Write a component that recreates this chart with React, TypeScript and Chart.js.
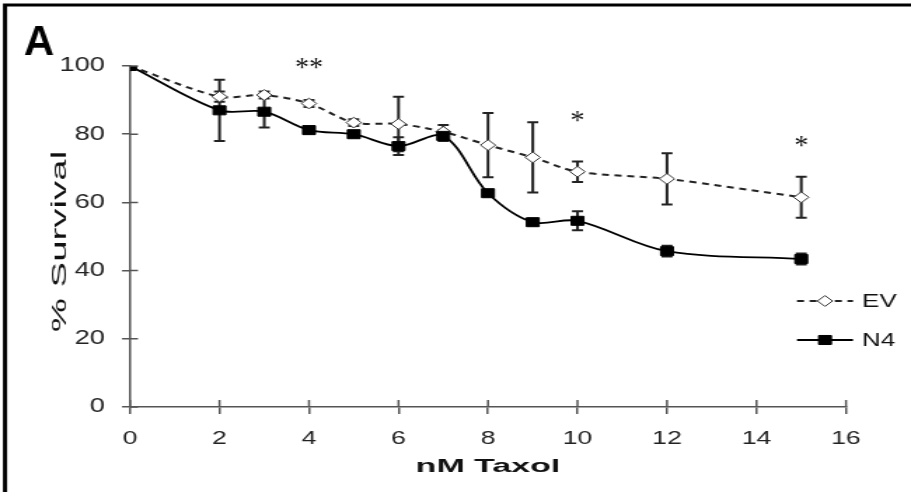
import React, { useEffect, useRef } from "react";
import { Chart, registerables } from "chart.js";

Chart.register(...registerables);

const doses = [0, 2, 3, 4, 5, 6, 7, 8, 9, 10, 12, 15];
const evValues = [100, 91, 91.5, 89, 83.4, 83, 80.7, 76.8, 73.2, 69, 66.9, 61.5];
const evErrors = [0, 1.5, 1, 1, 1, 8, 2, 9.4, 10.3, 3, 7.5, 6];
const n4Values = [100, 87, 86.6, 81.2, 80, 76.5, 79.5, 62.7, 54.2, 54.6, 45.7, 43.4];
const n4Errors = [0, 9, 4.6, 0.8, 0.8, 2.6, 1.5, 0.8, 0.8, 2.8, 1.6, 1.6];
const sigX = [4, 10, 15];
const sigY = [101, 85.5, 78];
const sigLabels = ["**", "*", "*"];
const seriesNames = ["EV", "N4"];
const xTitle = "nM Taxol";
const yTitle = "% Survival";
const panelLabel = "A";

const OUT_W = 911;
const OUT_H = 492;
const INNER_W = 650;
const K = OUT_W / INNER_W; // horizontal stretch of the whole picture
const FONT = "'Liberation Sans', Arial, sans-serif";
const AXIS_COLOR = "#555";

export default function App() {
  const ref = useRef<HTMLCanvasElement | null>(null);
  useEffect(() => {
    document.body.style.margin = "0";
    const errs = [evErrors, n4Errors];
    const rx = (v: number) => v / K; // real px -> internal px

    const framePlugin = {
      id: "frame",
      beforeDraw(chart: any) {
        const { ctx } = chart;
        ctx.save();
        ctx.strokeStyle = "#000";
        ctx.lineWidth = 3;
        ctx.beginPath();
        ctx.moveTo(rx(5), OUT_H);
        ctx.lineTo(rx(5), 5);
        ctx.lineTo(INNER_W, 5);
        ctx.stroke();
        ctx.translate(rx(24), 55);
        ctx.scale(1 / K, 1);
        ctx.fillStyle = "#000";
        ctx.font = `bold 42px ${FONT}`;
        ctx.textBaseline = "alphabetic";
        ctx.textAlign = "left";
        ctx.fillText(panelLabel, 0, 0);
        ctx.restore();
      },
      afterDraw(chart: any) {
        const { ctx, scales, chartArea } = chart;
        ctx.save();
        // inner halves of tick marks
        ctx.strokeStyle = AXIS_COLOR;
        ctx.lineWidth = 1.5;
        ctx.beginPath();
        scales.x.ticks.forEach((t: any) => {
          const px = scales.x.getPixelForValue(t.value);
          ctx.moveTo(px, chartArea.bottom);
          ctx.lineTo(px, chartArea.bottom - 7);
        });
        scales.y.ticks.forEach((t: any) => {
          const py = scales.y.getPixelForValue(t.value);
          ctx.moveTo(chartArea.left, py);
          ctx.lineTo(chartArea.left + rx(8), py);
        });
        ctx.stroke();

        // axis titles
        ctx.fillStyle = "#111";
        ctx.save();
        ctx.translate((chartArea.left + chartArea.right) / 2, 472);
        ctx.scale(1.31, 1);
        ctx.font = `bold 18.5px ${FONT}`;
        ctx.textAlign = "center";
        ctx.textBaseline = "alphabetic";
        ctx.fillText(xTitle, 0, 0);
        ctx.restore();

        ctx.save();
        ctx.translate(rx(66), (chartArea.top + chartArea.bottom) / 2 + 5);
        ctx.scale(1 / K, 1);
        ctx.rotate(-Math.PI / 2);
        ctx.scale(1.92, 1);
        ctx.font = `20px ${FONT}`;
        ctx.textAlign = "center";
        ctx.textBaseline = "alphabetic";
        ctx.fillText(yTitle, 0, 0);
        ctx.restore();

        // significance marks
        ctx.font = `28px 'Liberation Serif', 'Times New Roman', serif`;
        ctx.textAlign = "center";
        ctx.textBaseline = "middle";
        sigX.forEach((x, i) => {
          ctx.save();
          ctx.translate(scales.x.getPixelForValue(x), scales.y.getPixelForValue(sigY[i]) + 6);
          ctx.scale(1 / K, 1);
          ctx.fillText(sigLabels[i], 0, 0);
          ctx.restore();
        });

        // legend
        const lx0 = rx(797), lx1 = rx(853);
        const rows = [301, 340];
        chart.data.datasets.forEach((ds: any, i: number) => {
          const y = rows[i];
          ctx.save();
          ctx.strokeStyle = ds.borderColor;
          ctx.lineWidth = ds.borderWidth;
          ctx.setLineDash(ds.borderDash || []);
          ctx.beginPath();
          ctx.moveTo(lx0, y);
          ctx.lineTo(lx1, y);
          ctx.stroke();
          ctx.restore();
          const cx = (lx0 + lx1) / 2;
          ctx.save();
          ctx.fillStyle = ds.pointBackgroundColor;
          ctx.strokeStyle = ds.pointBorderColor;
          ctx.lineWidth = 1;
          ctx.beginPath();
          if (ds.pointStyle === "rectRot") {
            const r = ds.pointRadius;
            ctx.moveTo(cx - r, y);
            ctx.lineTo(cx, y - r);
            ctx.lineTo(cx + r, y);
            ctx.lineTo(cx, y + r);
            ctx.closePath();
          } else {
            const s = ds.pointRadius * Math.SQRT1_2;
            ctx.rect(cx - s, y - s, 2 * s, 2 * s);
          }
          ctx.fill();
          ctx.stroke();
          ctx.restore();
          ctx.fillStyle = "#111";
          ctx.font = `18.5px ${FONT}`;
          ctx.textAlign = "left";
          ctx.textBaseline = "middle";
          ctx.fillText(ds.label, rx(862), y + 1);
        });
        ctx.restore();
      },
    };

    const errorPlugin = {
      id: "errorBars",
      beforeDatasetsDraw(chart: any) {
        const { ctx, scales } = chart;
        ctx.save();
        ctx.strokeStyle = "#222";
        ctx.lineWidth = 2;
        const cap = rx(5.5);
        errs.forEach((eArr, di) => {
          const vals = chart.data.datasets[di].data as number[];
          vals.forEach((v, i) => {
            const e = eArr[i];
            if (!e) return;
            const px = scales.x.getPixelForValue(doses[i]);
            const top = scales.y.getPixelForValue(v + e);
            const bot = scales.y.getPixelForValue(v - e);
            ctx.beginPath();
            ctx.moveTo(px, top);
            ctx.lineTo(px, bot);
            ctx.moveTo(px - cap, top);
            ctx.lineTo(px + cap, top);
            ctx.moveTo(px - cap, bot);
            ctx.lineTo(px + cap, bot);
            ctx.stroke();
          });
        });
        ctx.restore();
      },
    };

    const chart = new Chart(ref.current as HTMLCanvasElement, {
      type: "line",
      data: {
        labels: doses,
        datasets: [
          {
            label: seriesNames[0],
            data: evValues,
            borderColor: "#222",
            borderWidth: 2,
            borderDash: [5, 4],
            pointStyle: "rectRot",
            pointRadius: 5.4,
            pointBackgroundColor: "#fff",
            pointBorderColor: "#333",
            pointBorderWidth: 1,
            tension: 0.3,
            fill: false,
            order: 1,
          } as any,
          {
            label: seriesNames[1],
            data: n4Values,
            borderColor: "#000",
            borderWidth: 1.8,
            pointStyle: "rect",
            pointRadius: 6.4,
            pointBackgroundColor: "#000",
            pointBorderColor: "#000",
            pointBorderWidth: 1,
            tension: 0.33,
            fill: false,
            order: 0,
          } as any,
        ],
      },
      options: {
        animation: false,
        responsive: false,
        devicePixelRatio: 1,
        layout: { padding: { top: 66, right: INNER_W - rx(846), left: 0, bottom: 0 } },
        plugins: {
          legend: { display: false },
          tooltip: { enabled: false },
          title: { display: false },
        },
        scales: {
          x: {
            type: "linear",
            min: 0,
            max: 16,
            afterFit: (s: any) => {
              s.height = 85;
            },
            ticks: {
              stepSize: 2,
              color: "#222",
              font: { family: FONT, size: 19 },
              padding: 13,
              maxRotation: 0,
            },
            grid: {
              drawOnChartArea: false,
              drawTicks: true,
              tickLength: 7,
              color: AXIS_COLOR,
              lineWidth: 1.5,
            },
            border: { display: true, color: AXIS_COLOR, width: 1.5 },
            title: { display: false },
          },
          y: {
            min: 0,
            max: 100,
            afterFit: (s: any) => {
              s.width = rx(130);
            },
            ticks: {
              stepSize: 20,
              color: "#222",
              font: { family: FONT, size: 19.5 },
              padding: rx(130) - rx(8) - rx(105),
            },
            grid: {
              drawOnChartArea: false,
              drawTicks: true,
              tickLength: rx(8),
              color: AXIS_COLOR,
              lineWidth: 1.5,
            },
            border: { display: true, color: AXIS_COLOR, width: 1.5 },
            title: { display: false },
          },
        },
      } as any,
      plugins: [framePlugin, errorPlugin],
    });
    return () => chart.destroy();
  }, []);

  return (
    <div style={{ width: OUT_W, height: OUT_H, position: "relative", background: "#fff", overflow: "hidden" }}>
      <canvas
        ref={ref}
        width={INNER_W}
        height={OUT_H}
        style={{ display: "block", width: OUT_W + "px", height: OUT_H + "px" }}
      />
    </div>
  );
}
